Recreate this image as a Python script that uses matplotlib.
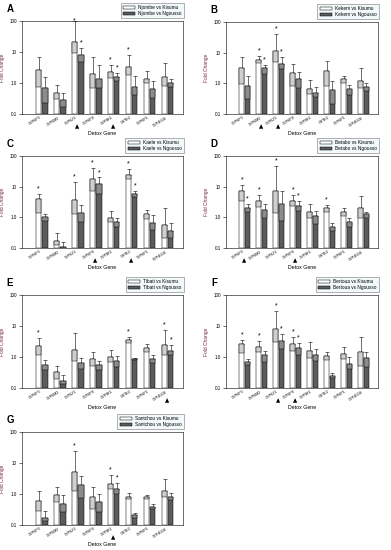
import matplotlib
matplotlib.use("Agg")
import matplotlib.pyplot as plt
from matplotlib.patches import Patch
import numpy as np

plt.rcParams['font.family'] = ['Liberation Sans', 'DejaVu Sans']

genes = ["CYP6P3", "CYP6M2", "CYP6Z1", "CYP6P4", "CYP9K1", "GSTE2", "CYP6P1", "CYP4G16"]

# ---- Panel A: Njombe ----
A_kis = [2.6, 0.49, 21.5, 1.95, 2.26, 3.3, 1.35, 1.52]
A_kis_low = [0.72, 0.30, 9.1, 0.67, 1.5, 1.8, 0.98, 0.8]
A_kis_hi = [7.1, 0.86, 100, 6.7, 3.7, 7.8, 2.4, 4.3]
A_ngo = [0.69, 0.28, 8.0, 1.3, 1.6, 0.76, 0.64, 1.0]
A_ngo_low = [0.23, 0.17, 4.9, 0.67, 1.19, 0.41, 0.34, 0.72]
A_ngo_hi = [1.6, 0.46, 13.4, 3.8, 2.1, 1.7, 1.13, 1.31]
A_star_kis = [3, 5, 6]
A_star_ngo = [3, 5]
A_tri = [3, 5]

# ---- Panel B: Kekem ----
B_kis = [3.1, 5.8, 11.6, 2.1, 0.64, 2.5, 1.38, 1.19]
B_kis_low = [0.95, 4.5, 4.8, 0.81, 0.44, 0.81, 1.0, 0.68]
B_kis_hi = [7.1, 7.8, 41, 4.2, 1.25, 5.5, 1.8, 3.1]
B_ngo = [0.80, 3.1, 4.3, 1.35, 0.47, 0.59, 0.67, 0.74]
B_ngo_low = [0.32, 2.0, 2.9, 0.68, 0.35, 0.21, 0.42, 0.58]
B_ngo_hi = [1.7, 4.1, 7.1, 2.3, 0.74, 1.2, 0.9, 1.0]
B_star_kis = [2, 3]
B_star_ngo = [2, 3]
B_tri = [2, 3]

# ---- Panel C: Kaele ----
C_kis = [3.9, 0.17, 3.6, 18.4, 0.98, 24.8, 1.26, 0.57]
C_kis_low = [1.36, 0.13, 1.26, 7.2, 0.69, 18.4, 0.89, 0.21]
C_kis_hi = [5.6, 0.30, 14.0, 40, 1.55, 38, 1.74, 2.0]
C_ngo = [1.0, 0.11, 1.42, 12.0, 0.71, 5.6, 0.63, 0.36]
C_ngo_low = [0.77, 0.1, 0.73, 5.6, 0.5, 4.5, 0.39, 0.21]
C_ngo_hi = [1.33, 0.16, 2.6, 20, 0.96, 7.1, 1.2, 0.65]
C_star_kis = [1, 3, 4, 6]
C_star_ngo = [4, 6]
C_tri = [4, 6]

# ---- Panel D: Betabo ----
D_kis = [7.4, 3.4, 7.4, 3.4, 1.5, 2.05, 1.5, 1.95]
D_kis_low = [3.4, 2.2, 1.35, 2.4, 0.98, 1.5, 1.1, 0.98]
D_kis_hi = [11, 5.5, 49, 5.2, 2.8, 2.6, 1.95, 5.1]
D_ngo = [1.95, 1.73, 2.7, 2.35, 1.07, 0.5, 0.73, 1.28]
D_ngo_low = [1.5, 0.98, 0.76, 1.67, 0.62, 0.36, 0.5, 0.98]
D_ngo_hi = [2.7, 2.7, 7.1, 3.5, 1.67, 0.66, 0.98, 1.5]
D_star_kis = [1, 2, 3, 4, 6]
D_star_ngo = [1, 4]
D_tri = [1, 4]

# ---- Panel E: Tibati ----
E_kis = [2.2, 0.32, 1.68, 0.88, 1.0, 3.55, 1.95, 2.4]
E_kis_low = [1.12, 0.19, 0.72, 0.50, 0.69, 2.9, 1.45, 1.2]
E_kis_hi = [4.1, 0.53, 5.8, 1.4, 1.74, 4.4, 2.7, 7.3]
E_ngo = [0.57, 0.17, 0.63, 0.57, 0.72, 0.85, 0.85, 1.55]
E_ngo_low = [0.37, 0.13, 0.41, 0.37, 0.47, 0.83, 0.65, 1.12]
E_ngo_hi = [0.83, 0.26, 0.94, 0.77, 1.04, 0.94, 1.17, 2.5]
E_star_kis = [1, 6, 8]
E_star_ngo = [8]
E_tri = [8]

# ---- Panel F: Bertoua ----
F_kis = [2.6, 2.1, 8.3, 2.6, 1.6, 1.06, 1.29, 1.45]
F_kis_low = [1.35, 1.45, 3.1, 1.55, 0.96, 0.83, 0.86, 0.5]
F_kis_hi = [3.6, 3.4, 31, 4.3, 3.1, 1.5, 2.1, 4.3]
F_ngo = [0.69, 1.17, 3.2, 1.95, 1.17, 0.24, 0.6, 0.93]
F_ngo_low = [0.54, 0.69, 1.8, 1.2, 0.72, 0.21, 0.42, 0.48]
F_ngo_hi = [0.89, 1.6, 5.5, 2.9, 1.77, 0.31, 0.98, 1.4]
F_star_kis = [1, 2, 3, 4]
F_star_ngo = [3, 4]
F_tri = [3, 4]

# ---- Panel G: Santchou ----
G_kis = [0.6, 0.9, 5.1, 0.82, 2.15, 0.8, 0.8, 1.25]
G_kis_low = [0.28, 0.55, 1.25, 0.32, 1.5, 0.67, 0.67, 0.8]
G_kis_hi = [1.25, 1.7, 24, 1.7, 4.0, 1.1, 0.93, 3.1]
G_ngo = [0.17, 0.49, 1.95, 0.55, 1.5, 0.21, 0.38, 0.8]
G_ngo_low = [0.13, 0.27, 0.76, 0.27, 1.0, 0.17, 0.32, 0.66]
G_ngo_hi = [0.28, 0.9, 3.8, 0.98, 2.3, 0.24, 0.46, 1.05]
G_star_kis = [3, 5]
G_star_ngo = [5]
G_tri = [5]

panels = [
    ("A", "Njombe", A_kis, A_kis_low, A_kis_hi, A_ngo, A_ngo_low, A_ngo_hi, A_star_kis, A_star_ngo, A_tri),
    ("B", "Kekem", B_kis, B_kis_low, B_kis_hi, B_ngo, B_ngo_low, B_ngo_hi, B_star_kis, B_star_ngo, B_tri),
    ("C", "Kaele", C_kis, C_kis_low, C_kis_hi, C_ngo, C_ngo_low, C_ngo_hi, C_star_kis, C_star_ngo, C_tri),
    ("D", "Betabo", D_kis, D_kis_low, D_kis_hi, D_ngo, D_ngo_low, D_ngo_hi, D_star_kis, D_star_ngo, D_tri),
    ("E", "Tibati", E_kis, E_kis_low, E_kis_hi, E_ngo, E_ngo_low, E_ngo_hi, E_star_kis, E_star_ngo, E_tri),
    ("F", "Bertoua", F_kis, F_kis_low, F_kis_hi, F_ngo, F_ngo_low, F_ngo_hi, F_star_kis, F_star_ngo, F_tri),
    ("G", "Santchou", G_kis, G_kis_low, G_kis_hi, G_ngo, G_ngo_low, G_ngo_hi, G_star_kis, G_star_ngo, G_tri),
]

# axes rectangles in pixels: left, right, top, bottom
W, H = 391, 550
boxes = [
    (22, 183, 21, 114), (226, 378, 22, 114),
    (22, 183, 156, 248), (226, 378, 156, 248),
    (22, 183, 295, 388), (226, 378, 295, 388),
    (22, 183, 432, 525),
]

fig = plt.figure(figsize=(W / 100, H / 100), dpi=100)
fig.patch.set_facecolor("white")

KIS_BAR, KIS_BOX = "white", "#cfcfcf"
NGO_BAR, NGO_BOX = "#5c5c5c", "#8c8c8c"
off, bw = 0.17, 0.3

for (letter, pop, kis, kis_low, kis_hi, ngo, ngo_low, ngo_hi, sk, sn, tri), (l, r, t, b) in zip(panels, boxes):
    ax = fig.add_axes([l / W, 1 - b / H, (r - l) / W, (b - t) / H])
    x = np.arange(len(genes))
    base = 0.1
    for xs, top, low, hi, cbar, cbox in [
        (x - off, kis, kis_low, kis_hi, KIS_BAR, KIS_BOX),
        (x + off, ngo, ngo_low, ngo_hi, NGO_BAR, NGO_BOX),
    ]:
        top = np.array(top); low = np.array(low); hi = np.array(hi)
        ax.bar(xs, top - base, bottom=base, width=bw, color=cbar, edgecolor="black", linewidth=0.35, zorder=2)
        ax.bar(xs, top - low, bottom=low, width=bw, color=cbox, edgecolor="black", linewidth=0.35, zorder=3)
        ax.errorbar(xs, top, yerr=[np.zeros_like(top), hi - top], fmt="none", ecolor="black",
                    elinewidth=0.4, capsize=1.3, capthick=0.4, zorder=1)
    for g in sk:
        ax.text(g - 1 - off, min(kis_hi[g - 1] * 1.12, 75), "*", ha="center", va="bottom", fontsize=5, zorder=5)
    for g in sn:
        ax.text(g - 1 + off, min(ngo_hi[g - 1] * 1.12, 75), "*", ha="center", va="bottom", fontsize=5, zorder=5)
    for g in tri:
        ax.text(g - 1 - 0.05, -0.135, "\u25B2", transform=ax.get_xaxis_transform(), ha="center", va="center",
                fontsize=4, family=["DejaVu Sans"])
    ax.set_yscale("log")
    ax.set_ylim(0.1, 100)
    ax.set_xlim(-1.1, 7.85)
    ax.set_yticks([0.1, 1, 10, 100])
    ax.set_yticklabels(["0.1", "1.0", "10", "100"], fontsize=3.3)
    ax.yaxis.set_minor_locator(matplotlib.ticker.NullLocator())
    ax.set_xticks(x - 0.1)
    ax.set_xticklabels(genes, rotation=32, ha="right", fontsize=2.6, rotation_mode="anchor")
    ax.tick_params(axis="x", length=0, pad=1.2)
    ax.tick_params(axis="y", length=2, width=0.4, pad=1.5)
    for s in ax.spines.values():
        s.set_linewidth(0.4)
    ax.set_xlabel("Detox Gene", fontsize=3.8)
    ax.xaxis.set_label_coords(0.5, -0.18)
    ax.set_ylabel("Fold Change", fontsize=3.5, color="#7a2a3a", labelpad=3)
    fig.text((l - 12) / W, 1 - (t - 12) / H, letter, fontsize=7, fontweight="bold", ha="center", va="center")
    handles = [Patch(facecolor=KIS_BAR, edgecolor="black", linewidth=0.35, label=f"{pop} vs Kisumu"),
               Patch(facecolor=NGO_BAR, edgecolor="black", linewidth=0.35, label=f"{pop} vs Ngousso")]
    leg = fig.legend(handles=handles, loc="upper right", bbox_to_anchor=((r + 1) / W, 1 - (t - 18) / H),
                     fontsize=3.4, frameon=True, fancybox=False, handlelength=2.6, handleheight=0.6,
                     borderpad=0.5, labelspacing=0.15, handletextpad=0.6, borderaxespad=0)
    leg.get_frame().set_facecolor("#eef8fa")
    leg.get_frame().set_edgecolor("#555555")
    leg.get_frame().set_linewidth(0.4)

fig.savefig("out.png", dpi=100, facecolor="white")
